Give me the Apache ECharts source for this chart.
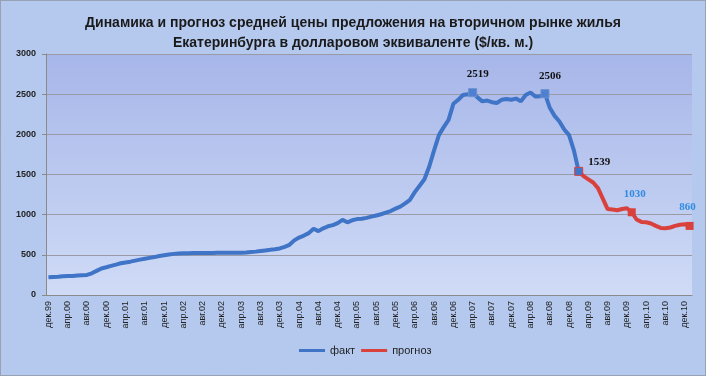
<!DOCTYPE html>
<html>
<head>
<meta charset="utf-8">
<script src="https://cdn.jsdelivr.net/npm/echarts@6/dist/echarts.min.js"></script>
<style>
html, body { margin: 0; padding: 0; }
#chart { width: 706px; height: 376px; }
</style>
</head>
<body>
<div id="chart"></div>
<script>
// названия месяцев для подписей оси
var monthNames = ['янв', 'фев', 'мар', 'апр', 'май', 'июн', 'июл', 'авг', 'сен', 'окт', 'ноя', 'дек'];

// факт: дек.99 .. фев.09
var factValues = [
    220, 225, 228, 233, 236, 238, 242, 246, 250, 270, 300, 330,
    345, 362, 378, 395, 405, 415, 428, 440, 452, 462, 472, 485,
    495, 505, 512, 517, 520, 521, 522, 523, 523, 524, 524, 525,
    525, 526, 526, 527, 527, 530, 535, 540, 548, 555, 562, 570,
    580, 600, 625, 680, 715, 740, 770, 825, 795, 830, 855, 870,
    895, 935, 905, 930, 945, 950, 960, 975, 990, 1005, 1025, 1045,
    1075, 1100, 1140, 1185, 1280, 1360, 1440, 1600, 1800, 1990, 2090, 2180,
    2380, 2430, 2490, 2500, 2519, 2460, 2410, 2420, 2400, 2390, 2430, 2440,
    2430, 2445, 2410, 2490, 2520, 2470, 2475, 2506, 2330, 2230, 2160, 2060,
    1990, 1800, 1539
];

// прогноз: фев.09 .. янв.11
var forecastValues = [
    1539, 1480, 1440, 1400, 1330, 1200, 1070, 1065, 1055, 1070, 1080, 1030,
    940, 910, 905, 890, 860, 835, 830, 840, 860, 875, 880, 860
];

// подписанные точки
var factMarks = [88, 103, 110];
var forecastMarks = [11, 23];

var yTicks = [0, 500, 1000, 1500, 2000, 2500, 3000];

var categories = [];
for (var i = 0; i < 134; i++) {
    var m = (11 + i) % 12;
    var y = 99 + Math.floor((11 + i) / 12);
    categories.push(monthNames[m] + '.' + String(y % 100).padStart(2, '0'));
}

var forecastStart = factValues.length - 1;

function buildFact() {
    var out = [];
    for (var i = 0; i < categories.length; i++) {
        if (i >= factValues.length) { out.push(null); continue; }
        if (factMarks.indexOf(i) >= 0) {
            var isLast = i === factValues.length - 1;
            out.push({
                value: factValues[i],
                symbol: 'rect',
                symbolSize: 8,
                itemStyle: { color: isLast ? '#3f74c6' : '#4f7fd0', borderColor: isLast ? '#d9413d' : '#6b8fcf', borderWidth: 1 },
                label: {
                    show: true,
                    position: isLast ? 'right' : 'top',
                    offset: isLast ? [0, -9] : [5, -3],
                    color: '#111',
                    fontWeight: 'bold',
                    fontSize: 11,
                    fontFamily: 'Liberation Serif'
                }
            });
        } else {
            out.push({ value: factValues[i], symbol: 'none' });
        }
    }
    return out;
}

function buildForecast() {
    var out = [];
    for (var i = 0; i < categories.length; i++) {
        var k = i - forecastStart;
        if (k < 0 || k >= forecastValues.length) { out.push(null); continue; }
        if (forecastMarks.indexOf(k) >= 0) {
            var isEnd = k === forecastValues.length - 1;
            out.push({
                value: forecastValues[k],
                symbol: 'rect',
                symbolSize: 8,
                itemStyle: { color: '#d9413d' },
                label: {
                    show: true,
                    position: 'top',
                    offset: isEnd ? [-2, -4] : [3, -4],
                    color: '#2f8ae0',
                    fontWeight: 'bold',
                    fontSize: 11,
                    fontFamily: 'Liberation Serif'
                }
            });
        } else {
            out.push({ value: forecastValues[k], symbol: 'none' });
        }
    }
    return out;
}

var chart = echarts.init(document.getElementById('chart'));

var option = {
    backgroundColor: '#b5c9ef',
    animation: false,
    title: {
        text: 'Динамика и прогноз средней цены предложения на вторичном рынке жилья\nЕкатеринбурга в долларовом эквиваленте ($/кв. м.)',
        left: 'center',
        top: 8,
        textStyle: {
            fontFamily: 'Liberation Sans',
            fontSize: 14,
            fontWeight: 'bold',
            color: '#1a1a1a',
            lineHeight: 20
        }
    },
    graphic: [{
        type: 'rect',
        shape: { x: 0.5, y: 0.5, width: 705, height: 375 },
        style: { fill: 'none', stroke: '#7a7a7a', lineWidth: 1, lineDash: [1, 1] },
        silent: true
    }],
    legend: {
        bottom: 15,
        left: 294,
        itemWidth: 26,
        itemHeight: 3,
        itemGap: 6,
        icon: 'rect',
        textStyle: { fontFamily: 'Liberation Sans', fontSize: 11, color: '#222' },
        data: ['факт', 'прогноз']
    },
    grid: {
        left: 46,
        right: 14,
        top: 54,
        bottom: 81,
        show: true,
        borderWidth: 0,
        backgroundColor: {
            type: 'linear', x: 0, y: 0, x2: 0, y2: 1,
            colorStops: [{ offset: 0, color: '#a7b6e9' }, { offset: 1, color: '#cfdbf6' }]
        }
    },
    xAxis: {
        type: 'category',
        data: categories,
        boundaryGap: true,
        axisLine: { lineStyle: { color: '#8a8a8a' } },
        axisTick: { interval: 3, length: 4, lineStyle: { color: '#8a8a8a' } },
        axisLabel: {
            interval: 3,
            rotate: 90,
            fontFamily: 'Liberation Sans',
            fontSize: 9,
            color: '#222',
            margin: 6
        }
    },
    yAxis: {
        type: 'value',
        min: 0,
        max: 3000,
        interval: 500,
        axisLine: { show: true, lineStyle: { color: '#8a8a8a' } },
        axisTick: { show: true, length: 4, lineStyle: { color: '#8a8a8a' } },
        splitLine: { lineStyle: { color: '#9a9aa6' } },
        axisLabel: {
            fontFamily: 'Liberation Sans',
            fontSize: 9,
            fontWeight: 'bold',
            color: '#222',
            margin: 10,
            formatter: function (v) { return yTicks.indexOf(v) >= 0 ? String(v) : ''; }
        }
    },
    series: [{
        name: 'факт',
        type: 'line',
        data: buildFact(),
        symbol: 'none',
        showAllSymbol: true,
        color: '#3f74c6',
        lineStyle: { width: 4, color: '#3f74c6' },
        z: 3
    }, {
        name: 'прогноз',
        type: 'line',
        data: buildForecast(),
        symbol: 'none',
        showAllSymbol: true,
        color: '#d9413d',
        lineStyle: { width: 4, color: '#d9413d' },
        z: 2
    }]
};

chart.setOption(option);
</script>
</body>
</html>
